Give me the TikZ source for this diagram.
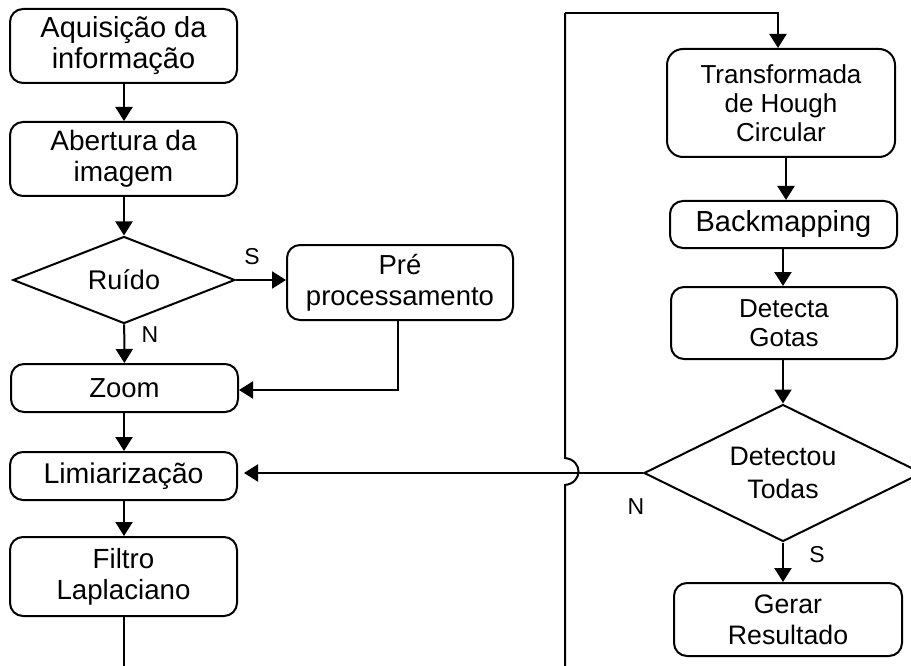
\documentclass[tikz,border=0pt]{standalone}
\usepackage{fontspec}
\setmainfont{Liberation Sans}
\usetikzlibrary{shapes.geometric,arrows.meta,calc}

\begin{document}
\begin{tikzpicture}[x=1pt,y=-1pt,
  box/.style={draw, line width=2pt, rounded corners=13pt, align=center,
    inner sep=0pt, font=\fontsize{27.5}{31}\selectfont},
  decision/.style={draw, diamond, line width=2pt, align=center,
    inner sep=0pt, aspect=2.4, font=\fontsize{27}{33}\selectfont},
  link/.style={line width=2pt},
  arr/.style={link, -{Triangle[length=14pt,width=17pt]}},
  tag/.style={font=\fontsize{23}{26}\selectfont, inner sep=0pt}]

\useasboundingbox (0,0) rectangle (911,666);
\clip (0,0) rectangle (911,666);

% left column
\node[box, minimum width=227pt, minimum height=74pt, font=\fontsize{29}{31}\selectfont]
  (aq) at (123.5,46) {Aquisição da\\informação};
\node[box, minimum width=227pt, minimum height=74pt, font=\fontsize{28}{31}\selectfont]
  (ab) at (123.5,159) {Abertura da\\imagem};
\node[decision, minimum width=222pt, minimum height=87pt]
  (ruido) at (124,280) {Ruído};
\node[box, minimum width=226pt, minimum height=75pt]
  (pre) at (400,282.5) {Pré\\processamento};
\node[box, minimum width=227pt, minimum height=48pt]
  (zoom) at (124.5,388) {Zoom};
\node[box, minimum width=227pt, minimum height=48pt, font=\fontsize{28.5}{31}\selectfont]
  (lim) at (123.5,476) {Limiarização};
\node[box, minimum width=227pt, minimum height=79pt, font=\fontsize{27.7}{31}\selectfont]
  (fil) at (123.5,576.5) {Filtro\\Laplaciano};

% right column
\node[box, minimum width=228pt, minimum height=108pt, rounded corners=16pt,
  font=\fontsize{26}{29}\selectfont]
  (hough) at (781,103) {Transformada\\de Hough\\Circular};
\node[box, minimum width=227pt, minimum height=47pt, font=\fontsize{29}{31}\selectfont]
  (bm) at (783.5,224.5) {Backmapping};
\node[box, minimum width=226pt, minimum height=72pt, font=\fontsize{26}{29}\selectfont]
  (dg) at (784,323) {Detecta\\Gotas};
\node[decision, minimum width=278pt, minimum height=137pt, aspect=2,
  font=\fontsize{26.7}{33}\selectfont]
  (dt) at (783,473) {Detectou\\Todas};
\node[box, minimum width=228pt, minimum height=73pt, font=\fontsize{26.7}{31}\selectfont]
  (gr) at (788,619.5) {Gerar\\Resultado};

% free ends of the page-crossing connectors
\coordinate (botL) at (124,666);
\coordinate (botR) at (565,666);
\coordinate (topL) at (565,13);
\coordinate (hopLow) at (565,485);
\coordinate (hopHigh) at (565,458);

% left column flow
\draw[arr] (aq.south -| 124,0) -- (124,0 |- ab.north);
\draw[arr] (ab.south -| 124,0) -- (ruido.north);
\draw[arr] (ruido.east) -- (ruido.east -| pre.west);
\draw[arr] (ruido) -- (zoom);
\draw[arr] (pre.south -| 398,0) -- (398,390) -- (zoom.east |- 0,390);
\draw[arr] (zoom.south -| 124,0) -- (124,0 |- lim.north);
\draw[arr] (lim.south -| 124,0) -- (124,0 |- fil.north);
\draw[link] (fil.south -| botL) -- (botL);

% right column flow
\draw[link] (botR) -- (hopLow)
  .. controls (583,483) and (583,460) .. (hopHigh) -- (topL);
\draw[arr] (topL) -- (topL -| 778,0) -- (778,0 |- hough.north);
\draw[arr] (hough.south -| 786,0) -- (786,0 |- bm.north);
\draw[arr] (bm.south -| 783,0) -- (783,0 |- dg.north);
\draw[arr] (dg.south -| 783,0) -- (dt.north);
\draw[arr] (dt.south) -- (dt.south |- gr.north);
\draw[arr, shorten >=6pt] (dt.west) -- (dt.west -| lim.east);

% branch labels
\node[tag] (s1) at (252,257) {S};
\node[tag] (n1) at (150,335) {N};
\node[tag] (n2) at (636,507) {N};
\node[tag] (s2) at (817,555) {S};
\end{tikzpicture}
\end{document}
